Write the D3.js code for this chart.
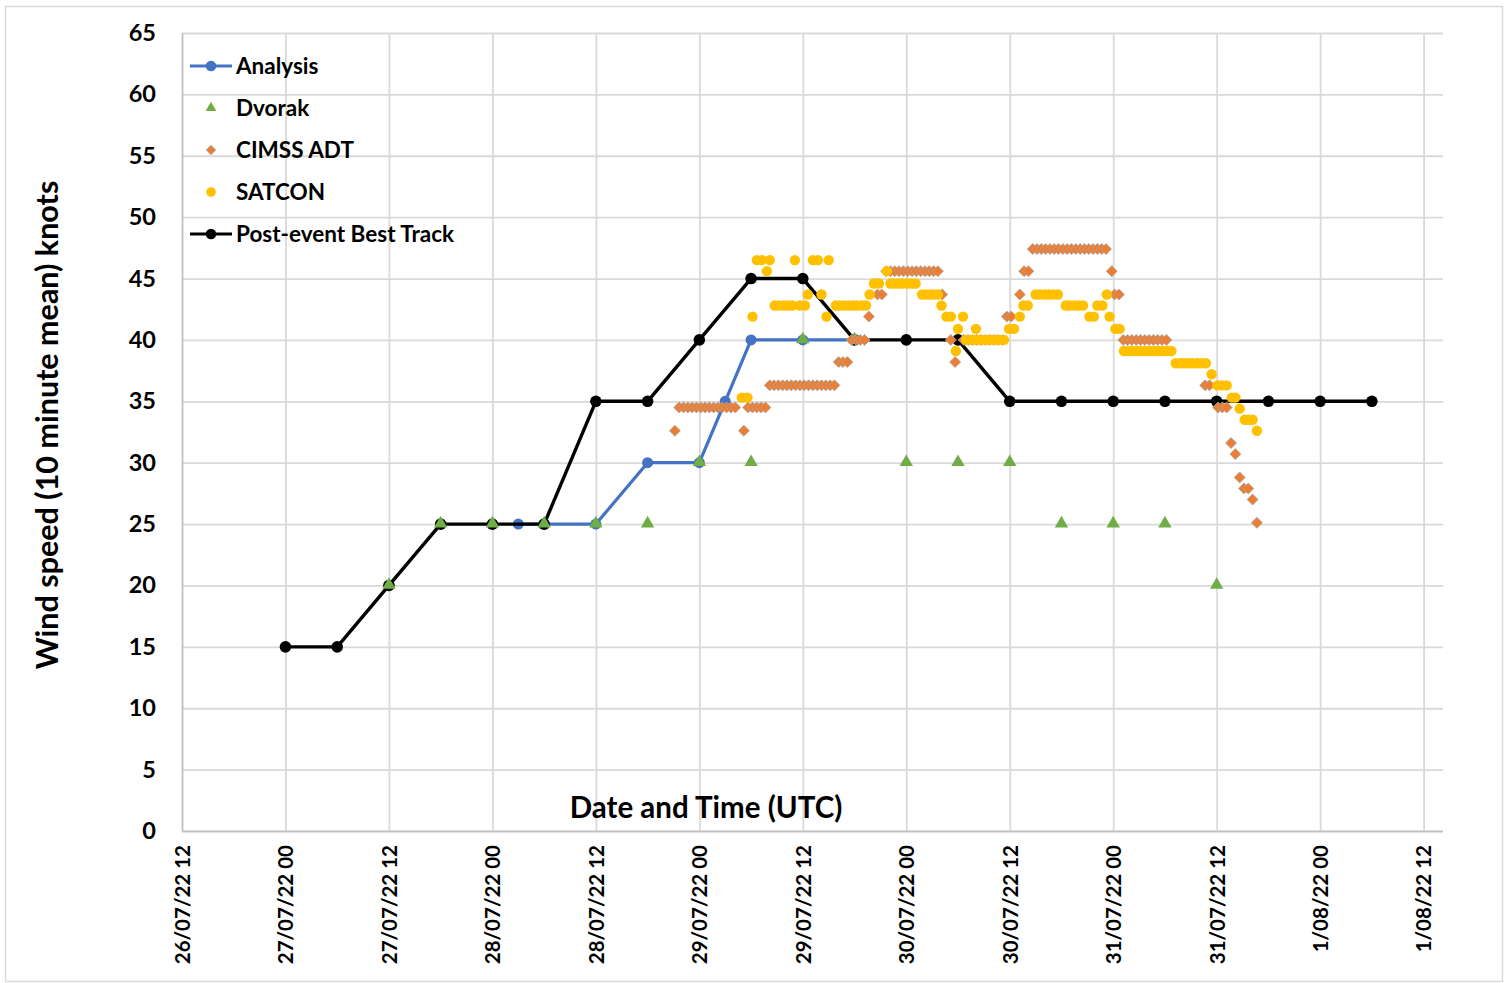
<!DOCTYPE html>
<html>
<head>
<meta charset="utf-8">
<script src="https://cdn.jsdelivr.net/npm/d3@7"></script>
<style>
  body { margin: 0; background: #fff; }
  text { font-family: Lato, "Open Sans", sans-serif; font-weight: 700; fill: #000; }
</style>
</head>
<body>
<svg id="chart" width="1509" height="983"></svg>
<script>
// ---- Data (wind speed in knots, 10-minute mean; times in UTC) ----
const yTickValues = [0, 5, 10, 15, 20, 25, 30, 35, 40, 45, 50, 55, 60, 65];
const xTickLabels = ["26/07/22 12:00", "27/07/22 00:00", "27/07/22 12:00", "28/07/22 00:00",
  "28/07/22 12:00", "29/07/22 00:00", "29/07/22 12:00", "30/07/22 00:00", "30/07/22 12:00",
  "31/07/22 00:00", "31/07/22 12:00", "01/08/22 00:00", "01/08/22 12:00"];

const bestTrackTimes = ["27/07/22 00:00", "27/07/22 06:00", "27/07/22 12:00", "27/07/22 18:00",
  "28/07/22 00:00", "28/07/22 06:00", "28/07/22 12:00", "28/07/22 18:00",
  "29/07/22 00:00", "29/07/22 06:00", "29/07/22 12:00", "29/07/22 18:00",
  "30/07/22 00:00", "30/07/22 06:00", "30/07/22 12:00", "30/07/22 18:00",
  "31/07/22 00:00", "31/07/22 06:00", "31/07/22 12:00", "31/07/22 18:00",
  "01/08/22 00:00", "01/08/22 06:00"];
const bestTrackValues = [15, 15, 20, 25, 25, 25, 35, 35, 40, 45, 45, 40, 40, 40, 35, 35, 35, 35, 35, 35, 35, 35];

const analysisTimes = ["28/07/22 03:00", "28/07/22 06:00", "28/07/22 12:00", "28/07/22 18:00",
  "29/07/22 00:00", "29/07/22 03:00", "29/07/22 06:00", "29/07/22 12:00", "29/07/22 18:00"];
const analysisValues = [25, 25, 25, 30, 30, 35, 40, 40, 40];

const dvorakTimes = ["27/07/22 12:00", "27/07/22 18:00", "28/07/22 00:00", "28/07/22 06:00",
  "28/07/22 12:00", "28/07/22 18:00", "29/07/22 00:00", "29/07/22 06:00", "29/07/22 12:00",
  "29/07/22 18:00", "30/07/22 00:00", "30/07/22 06:00", "30/07/22 12:00", "30/07/22 18:00",
  "31/07/22 00:00", "31/07/22 06:00", "31/07/22 12:00"];
const dvorakValues = [20, 25, 25, 25, 25, 25, 30, 30, 40, 40, 30, 30, 30, 25, 25, 25, 20];

const cimssAdt = [
  ["28/07/22 21:10", 32.6],
  ["28/07/22 21:40", 34.5], ["28/07/22 22:10", 34.5], ["28/07/22 22:40", 34.5], ["28/07/22 23:10", 34.5],
  ["28/07/22 23:40", 34.5], ["29/07/22 00:10", 34.5], ["29/07/22 00:40", 34.5], ["29/07/22 01:10", 34.5],
  ["29/07/22 01:40", 34.5], ["29/07/22 02:10", 34.5], ["29/07/22 02:40", 34.5], ["29/07/22 03:10", 34.5],
  ["29/07/22 03:40", 34.5], ["29/07/22 04:10", 34.5],
  ["29/07/22 05:10", 32.6],
  ["29/07/22 05:40", 34.5], ["29/07/22 06:10", 34.5], ["29/07/22 06:40", 34.5], ["29/07/22 07:10", 34.5],
  ["29/07/22 07:40", 34.5],
  ["29/07/22 08:10", 36.3], ["29/07/22 08:40", 36.3], ["29/07/22 09:10", 36.3], ["29/07/22 09:40", 36.3],
  ["29/07/22 10:10", 36.3], ["29/07/22 10:40", 36.3], ["29/07/22 11:10", 36.3], ["29/07/22 11:40", 36.3],
  ["29/07/22 12:10", 36.3], ["29/07/22 12:40", 36.3], ["29/07/22 13:10", 36.3], ["29/07/22 13:40", 36.3],
  ["29/07/22 14:10", 36.3], ["29/07/22 14:40", 36.3], ["29/07/22 15:10", 36.3], ["29/07/22 15:40", 36.3],
  ["29/07/22 16:10", 38.2], ["29/07/22 16:40", 38.2], ["29/07/22 17:10", 38.2],
  ["29/07/22 17:40", 40.0], ["29/07/22 18:10", 40.0], ["29/07/22 18:40", 40.0], ["29/07/22 19:10", 40.0],
  ["29/07/22 19:40", 41.9],
  ["29/07/22 20:40", 43.7], ["29/07/22 21:10", 43.7],
  ["29/07/22 21:40", 45.6], ["29/07/22 22:10", 45.6], ["29/07/22 22:40", 45.6], ["29/07/22 23:10", 45.6],
  ["29/07/22 23:40", 45.6], ["30/07/22 00:10", 45.6], ["30/07/22 00:40", 45.6], ["30/07/22 01:10", 45.6],
  ["30/07/22 01:40", 45.6], ["30/07/22 02:10", 45.6], ["30/07/22 02:40", 45.6], ["30/07/22 03:10", 45.6],
  ["30/07/22 03:40", 45.6],
  ["30/07/22 04:10", 43.7],
  ["30/07/22 05:10", 40.0],
  ["30/07/22 05:40", 38.2],
  ["30/07/22 06:40", 40.0], ["30/07/22 07:10", 40.0], ["30/07/22 07:40", 40.0], ["30/07/22 08:10", 40.0],
  ["30/07/22 08:40", 40.0], ["30/07/22 09:10", 40.0], ["30/07/22 09:40", 40.0], ["30/07/22 10:10", 40.0],
  ["30/07/22 10:40", 40.0], ["30/07/22 11:10", 40.0],
  ["30/07/22 11:40", 41.9], ["30/07/22 12:10", 41.9],
  ["30/07/22 13:10", 43.7],
  ["30/07/22 13:40", 45.6], ["30/07/22 14:10", 45.6],
  ["30/07/22 14:40", 47.4], ["30/07/22 15:10", 47.4], ["30/07/22 15:40", 47.4], ["30/07/22 16:10", 47.4],
  ["30/07/22 16:40", 47.4], ["30/07/22 17:10", 47.4], ["30/07/22 17:40", 47.4], ["30/07/22 18:10", 47.4],
  ["30/07/22 18:40", 47.4], ["30/07/22 19:10", 47.4], ["30/07/22 19:40", 47.4], ["30/07/22 20:10", 47.4],
  ["30/07/22 20:40", 47.4], ["30/07/22 21:10", 47.4], ["30/07/22 21:40", 47.4], ["30/07/22 22:10", 47.4],
  ["30/07/22 22:40", 47.4], ["30/07/22 23:10", 47.4],
  ["30/07/22 23:50", 45.6],
  ["31/07/22 00:10", 43.7], ["31/07/22 00:40", 43.7],
  ["31/07/22 01:10", 40.0], ["31/07/22 01:40", 40.0], ["31/07/22 02:10", 40.0], ["31/07/22 02:40", 40.0],
  ["31/07/22 03:10", 40.0], ["31/07/22 03:40", 40.0], ["31/07/22 04:10", 40.0], ["31/07/22 04:40", 40.0],
  ["31/07/22 05:10", 40.0], ["31/07/22 05:40", 40.0], ["31/07/22 06:10", 40.0],
  ["31/07/22 10:40", 36.3], ["31/07/22 11:10", 36.3],
  ["31/07/22 12:10", 34.5], ["31/07/22 12:40", 34.5], ["31/07/22 13:10", 34.5],
  ["31/07/22 13:40", 31.6], ["31/07/22 14:10", 30.7], ["31/07/22 14:40", 28.8],
  ["31/07/22 15:10", 27.9], ["31/07/22 15:40", 27.9], ["31/07/22 16:10", 27.0], ["31/07/22 16:40", 25.1]
];

const satcon = [
  ["29/07/22 04:55", 35.3], ["29/07/22 05:35", 35.3], ["29/07/22 06:10", 41.9], ["29/07/22 06:40", 46.5],
  ["29/07/22 07:15", 46.5], ["29/07/22 07:50", 45.6], ["29/07/22 08:10", 46.5], ["29/07/22 08:45", 42.8],
  ["29/07/22 09:15", 42.8], ["29/07/22 09:50", 42.8], ["29/07/22 10:15", 42.8], ["29/07/22 10:45", 42.8],
  ["29/07/22 11:05", 46.5], ["29/07/22 11:40", 42.8], ["29/07/22 12:15", 42.8], ["29/07/22 12:35", 43.7],
  ["29/07/22 13:10", 46.5], ["29/07/22 13:45", 46.5], ["29/07/22 14:10", 43.7], ["29/07/22 14:45", 41.9],
  ["29/07/22 15:00", 46.5], ["29/07/22 15:50", 42.8], ["29/07/22 16:15", 42.8], ["29/07/22 16:50", 42.8],
  ["29/07/22 17:20", 42.8], ["29/07/22 17:50", 42.8], ["29/07/22 18:15", 42.8], ["29/07/22 18:50", 42.8],
  ["29/07/22 19:20", 42.8], ["29/07/22 19:45", 43.7], ["29/07/22 20:15", 44.6], ["29/07/22 20:50", 44.6],
  ["29/07/22 21:45", 45.6], ["29/07/22 22:10", 44.6], ["29/07/22 22:40", 44.6], ["29/07/22 23:10", 44.6],
  ["29/07/22 23:35", 44.6], ["30/07/22 00:10", 44.6], ["30/07/22 00:40", 44.6], ["30/07/22 01:05", 44.6],
  ["30/07/22 01:50", 43.7], ["30/07/22 02:15", 43.7], ["30/07/22 02:45", 43.7], ["30/07/22 03:10", 43.7],
  ["30/07/22 03:40", 43.7], ["30/07/22 04:05", 42.8], ["30/07/22 04:40", 41.9], ["30/07/22 05:10", 41.9],
  ["30/07/22 05:45", 39.1], ["30/07/22 06:00", 40.9], ["30/07/22 06:35", 41.9], ["30/07/22 06:55", 40.0],
  ["30/07/22 07:20", 40.0], ["30/07/22 07:50", 40.0], ["30/07/22 08:05", 40.9], ["30/07/22 08:25", 40.0],
  ["30/07/22 08:50", 40.0], ["30/07/22 09:20", 40.0], ["30/07/22 09:50", 40.0], ["30/07/22 10:25", 40.0],
  ["30/07/22 10:50", 40.0], ["30/07/22 11:20", 40.0], ["30/07/22 11:55", 40.9], ["30/07/22 12:30", 40.9],
  ["30/07/22 13:10", 41.9], ["30/07/22 13:35", 42.8], ["30/07/22 14:05", 42.8], ["30/07/22 15:00", 43.7],
  ["30/07/22 15:30", 43.7], ["30/07/22 16:05", 43.7], ["30/07/22 16:30", 43.7], ["30/07/22 17:00", 43.7],
  ["30/07/22 17:35", 43.7], ["30/07/22 18:30", 42.8], ["30/07/22 18:55", 42.8], ["30/07/22 19:30", 42.8],
  ["30/07/22 20:00", 42.8], ["30/07/22 20:30", 42.8], ["30/07/22 21:15", 41.9], ["30/07/22 21:45", 41.9],
  ["30/07/22 22:10", 42.8], ["30/07/22 22:45", 42.8], ["30/07/22 23:15", 43.7], ["30/07/22 23:35", 41.9],
  ["31/07/22 00:15", 40.9], ["31/07/22 00:45", 40.9],
  ["31/07/22 01:15", 39.1], ["31/07/22 01:45", 39.1], ["31/07/22 02:15", 39.1], ["31/07/22 02:45", 39.1],
  ["31/07/22 03:15", 39.1], ["31/07/22 03:45", 39.1], ["31/07/22 04:15", 39.1], ["31/07/22 04:45", 39.1],
  ["31/07/22 05:15", 39.1], ["31/07/22 05:45", 39.1], ["31/07/22 06:15", 39.1], ["31/07/22 06:45", 39.1],
  ["31/07/22 07:15", 38.1], ["31/07/22 07:45", 38.1], ["31/07/22 08:15", 38.1], ["31/07/22 08:45", 38.1],
  ["31/07/22 09:15", 38.1], ["31/07/22 09:45", 38.1], ["31/07/22 10:15", 38.1], ["31/07/22 10:45", 38.1],
  ["31/07/22 11:25", 37.2], ["31/07/22 12:05", 36.3], ["31/07/22 12:35", 36.3], ["31/07/22 13:10", 36.3],
  ["31/07/22 13:45", 35.3], ["31/07/22 14:10", 35.3], ["31/07/22 14:40", 34.4], ["31/07/22 15:15", 33.5],
  ["31/07/22 15:45", 33.5], ["31/07/22 16:10", 33.5], ["31/07/22 16:40", 32.6]
];

const legendLabels = ["Analysis", "Dvorak", "CIMSS ADT", "SATCON", "Post-event Best Track"];

// ---- Layout ----
const parse = d3.timeParse("%d/%m/%y %H:%M");
const tickFormat = d3.timeFormat("%-d/%m/%y %H");
const plot = { left: 182, right: 1443, top: 33, bottom: 831 };

const colors = {
  analysis: "#4472C4",
  dvorak: "#70AD47",
  adt: "#ED7D31",
  satcon: "#FFC000",
  best: "#000000",
  grid: "#d9d9d9",
  axis: "#bfbfbf"
};

const svg = d3.select("#chart");

// outer chart frame
svg.append("rect")
  .attr("x", 5.5).attr("y", 6.5).attr("width", 1497).attr("height", 975)
  .attr("fill", "#fff").attr("stroke", "#d9d9d9").attr("stroke-width", 1.5);

const x = d3.scaleTime()
  .domain([parse("26/07/22 12:00"), parse("01/08/22 14:15")])
  .range([plot.left, plot.right]);
const y = d3.scaleLinear().domain([0, 65]).range([plot.bottom, plot.top]);

const xTicks = xTickLabels.map(parse);

// horizontal gridlines + y labels
const yAxis = svg.append("g")
  .attr("transform", `translate(${plot.left},0)`)
  .call(d3.axisLeft(y).tickValues(yTickValues).tickSize(-(plot.right - plot.left)).tickPadding(26));
yAxis.select(".domain").remove();
yAxis.selectAll(".tick line").attr("stroke", colors.grid).attr("stroke-width", 1.8);
yAxis.selectAll(".tick text").attr("font-size", 23.5).attr("fill", "#000");
yAxis.selectAll(".tick").filter(d => d === 0).select("line").attr("stroke", colors.axis);

// vertical gridlines + rotated date labels
const xAxis = svg.append("g")
  .attr("transform", `translate(0,${plot.bottom})`)
  .call(d3.axisBottom(x).tickValues(xTicks).tickSize(-(plot.bottom - plot.top)).tickFormat(tickFormat));
xAxis.select(".domain").remove();
xAxis.selectAll(".tick line").attr("stroke", colors.grid).attr("stroke-width", 1.8);
xAxis.selectAll(".tick").filter((d, i) => i === 0).select("line").attr("stroke", colors.axis);
xAxis.selectAll(".tick text")
  .attr("font-size", 20.5)
  .attr("transform", "rotate(-90)")
  .attr("x", -14).attr("y", 0).attr("dy", "0.36em")
  .style("text-anchor", "end");

// axis titles
svg.append("text")
  .attr("transform", "translate(58,425) rotate(-90)")
  .attr("text-anchor", "middle").attr("font-size", 30.5)
  .text("Wind speed (10 minute mean) knots");
svg.append("text")
  .attr("x", 706).attr("y", 818)
  .attr("text-anchor", "middle").attr("font-size", 29.5)
  .text("Date and Time (UTC)");

// ---- Series ----
const lineGen = d3.line().x(d => x(d.t)).y(d => y(d.v));
const zip = (ts, vs) => ts.map((t, i) => ({ t: parse(t), v: vs[i] }));
const pairs = arr => arr.map(([t, v]) => ({ t: parse(t), v }));

const analysis = zip(analysisTimes, analysisValues);
const bestTrack = zip(bestTrackTimes, bestTrackValues);
const dvorak = zip(dvorakTimes, dvorakValues);
const adt = pairs(cimssAdt);
const sat = pairs(satcon);

const triangle = d3.symbol().type(d3.symbolTriangle).size(78);
const diamond = d3.symbol().type(d3.symbolSquare).size(60);

// Analysis
svg.append("path").datum(analysis)
  .attr("d", lineGen).attr("fill", "none")
  .attr("stroke", colors.analysis).attr("stroke-width", 3.2).attr("stroke-linejoin", "round");
svg.append("g").selectAll("circle").data(analysis).join("circle")
  .attr("cx", d => x(d.t)).attr("cy", d => y(d.v)).attr("r", 5.5)
  .attr("fill", colors.analysis);

// Post-event Best Track
svg.append("path").datum(bestTrack)
  .attr("d", lineGen).attr("fill", "none")
  .attr("stroke", colors.best).attr("stroke-width", 3.4).attr("stroke-linejoin", "round");
svg.append("g").selectAll("circle").data(bestTrack).join("circle")
  .attr("cx", d => x(d.t)).attr("cy", d => y(d.v)).attr("r", 5.8)
  .attr("fill", colors.best);

// Dvorak
svg.append("g").selectAll("path").data(dvorak).join("path")
  .attr("d", triangle)
  .attr("transform", d => `translate(${x(d.t)},${y(d.v) - 0.5})`)
  .attr("fill", colors.dvorak);

// CIMSS ADT
svg.append("g").selectAll("path").data(adt).join("path")
  .attr("d", diamond)
  .attr("transform", d => `translate(${x(d.t)},${y(d.v)}) rotate(45)`)
  .attr("fill", colors.adt).attr("stroke", "#a6a6a6").attr("stroke-width", 0.8);

// SATCON
svg.append("g").selectAll("circle").data(sat).join("circle")
  .attr("cx", d => x(d.t)).attr("cy", d => y(d.v)).attr("r", 5.2)
  .attr("fill", colors.satcon);

// ---- Legend ----
const legend = svg.append("g").attr("transform", "translate(190,66)");
const rowGap = 42;
legendLabels.forEach((label, i) => {
  const g = legend.append("g").attr("transform", `translate(0,${i * rowGap})`);
  if (i === 0 || i === 4) {
    const c = i === 0 ? colors.analysis : colors.best;
    g.append("line").attr("x1", 0).attr("x2", 42).attr("y1", 0).attr("y2", 0)
      .attr("stroke", c).attr("stroke-width", 3.2);
    g.append("circle").attr("cx", 21).attr("cy", 0).attr("r", 5.3).attr("fill", c);
  } else if (i === 1) {
    g.append("path").attr("d", d3.symbol().type(d3.symbolTriangle).size(50))
      .attr("transform", "translate(21,0)").attr("fill", colors.dvorak);
  } else if (i === 2) {
    g.append("path").attr("d", d3.symbol().type(d3.symbolSquare).size(44))
      .attr("transform", "translate(21,0) rotate(45)")
      .attr("fill", colors.adt).attr("stroke", "#a6a6a6").attr("stroke-width", 0.8);
  } else {
    g.append("circle").attr("cx", 21).attr("cy", 0).attr("r", 4.8).attr("fill", colors.satcon);
  }
  g.append("text").attr("x", 46).attr("y", 0).attr("dy", "0.35em")
    .attr("font-size", 22.5).text(label);
});
</script>
</body>
</html>
